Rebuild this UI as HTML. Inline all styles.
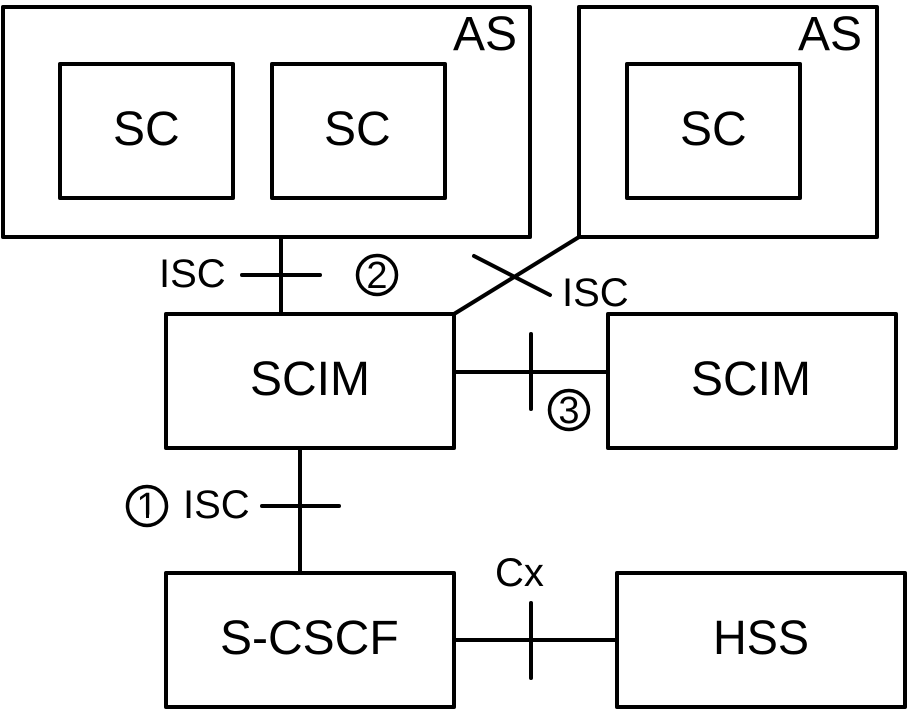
<!DOCTYPE html>
<html><head><meta charset="utf-8"><style>
html,body{margin:0;padding:0;background:#fff;width:908px;height:710px;overflow:hidden}
svg{display:block}
text{font-family:"Liberation Sans",Arial,sans-serif;fill:#000}
.b{font-size:48px}.s{font-size:40px}.n{font-size:38px}
rect,line,circle{stroke:#000;stroke-linecap:round;stroke-linejoin:round}
rect{fill:#fff;stroke-width:4}
line{stroke-width:4}
circle{fill:none;stroke-width:3.5}
</style></head><body>
<svg width="908" height="710" viewBox="0 0 908 710" xmlns="http://www.w3.org/2000/svg">
<defs><clipPath id="nofoot"><rect x="120" y="480" width="55" height="34.5" style="stroke:none"/></clipPath></defs>
<line x1="281" y1="237" x2="281" y2="314"/>
<line x1="242" y1="275" x2="320" y2="275"/>
<line x1="579" y1="237" x2="454" y2="314"/>
<line x1="474" y1="256" x2="550" y2="295"/>
<line x1="454" y1="372" x2="608" y2="372"/>
<line x1="531" y1="334" x2="531" y2="409"/>
<line x1="300" y1="448" x2="300" y2="573"/>
<line x1="262" y1="506" x2="339" y2="506"/>
<line x1="454" y1="640" x2="617" y2="640"/>
<line x1="531" y1="603" x2="531" y2="678"/>
<rect x="3" y="7" width="527" height="230"/>
<rect x="60" y="64" width="173" height="134"/>
<rect x="272" y="64" width="173" height="134"/>
<rect x="579" y="7" width="298" height="230"/>
<rect x="627" y="64" width="173" height="134"/>
<rect x="166" y="314" width="288" height="134"/>
<rect x="608" y="314" width="288" height="134"/>
<rect x="166" y="573" width="288" height="134"/>
<rect x="617" y="573" width="288" height="134"/>
<text class="b" x="453" y="50">AS</text>
<text class="b" x="798" y="50">AS</text>
<text class="b" x="113" y="145">SC</text>
<text class="b" x="324" y="145">SC</text>
<text class="b" x="680" y="145">SC</text>
<text class="b" x="250" y="395">SCIM</text>
<text class="b" x="691" y="395">SCIM</text>
<text class="b" x="220" y="654">S-CSCF</text>
<text class="b" x="713" y="654" textLength="96" lengthAdjust="spacingAndGlyphs">HSS</text>
<text class="s" x="159" y="287">ISC</text>
<text class="s" x="562" y="306">ISC</text>
<text class="s" x="183" y="518">ISC</text>
<text class="s" x="495" y="586">Cx</text>
<circle cx="377" cy="275" r="19.5"/>
<circle cx="569" cy="410" r="19.5"/>
<circle cx="147" cy="506" r="19.5"/>
<text class="n" x="377" y="288" text-anchor="middle">2</text>
<text class="n" x="569" y="423" text-anchor="middle">3</text>
<text class="n" x="147" y="519" text-anchor="middle" clip-path="url(#nofoot)">1</text>
<line x1="147.5" y1="512" x2="147.5" y2="518" style="stroke-width:3;stroke-linecap:butt"/>
</svg>
</body></html>
